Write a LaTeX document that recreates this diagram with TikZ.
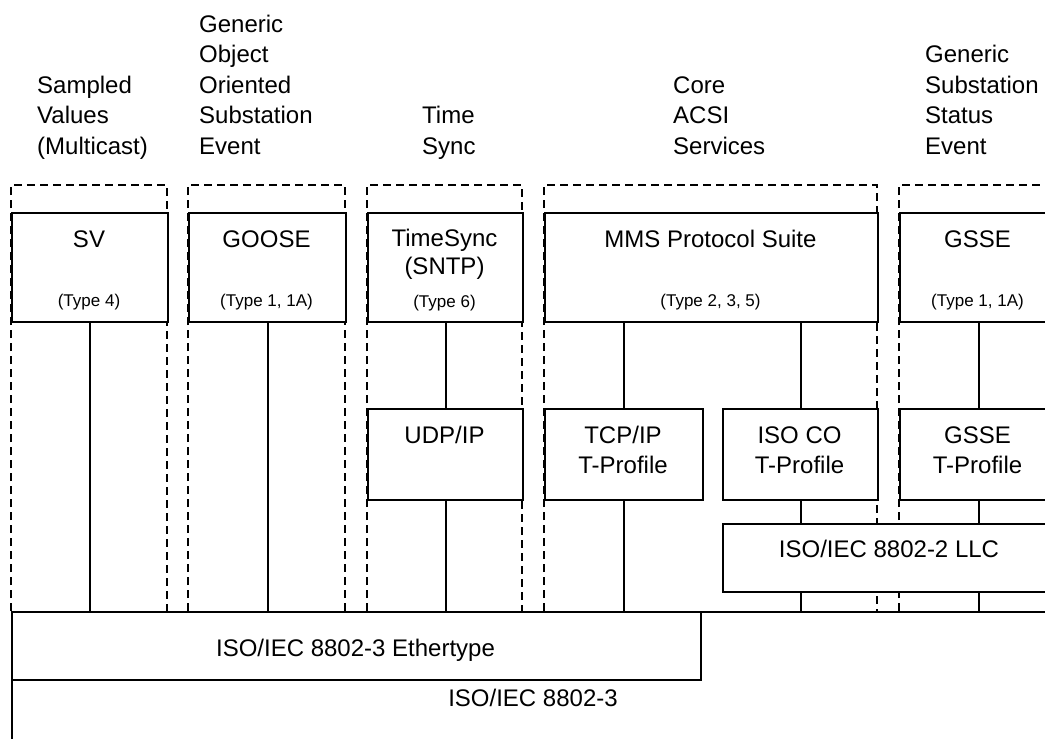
\documentclass[tikz,border=0pt]{standalone}
\usepackage{fontspec}
\setmainfont{Liberation Sans}
\begin{document}
\begin{tikzpicture}[x=1pt,y=-1pt,
  box/.style={draw, line width=2pt, fill=white, inner sep=0pt, anchor=north west},
  grp/.style={draw, line width=1.8pt, dash pattern=on 8pt off 5pt},
  lbl/.style={font=\fontsize{24}{30.6}\selectfont, inner sep=0pt, anchor=base},
  small/.style={font=\fontsize{17}{20}\selectfont, inner sep=0pt, anchor=base},
  head/.style={font=\fontsize{24}{30.6}\selectfont, inner sep=0pt, anchor=base west, align=left},
  wire/.style={line width=2pt}]
\useasboundingbox (0,0) rectangle (1045,739);
\clip (0,0) rectangle (1045,739);

% headers (anchored at the baseline of their last line)
\node[head] (hsv) at (37,154.5) {Sampled\\Values\\(Multicast)};
\node[head] (hgoose) at (199,154.5) {Generic\\Object\\Oriented\\Substation\\Event};
\node[head] (htime) at (422,154.5) {Time\\Sync};
\node[head] (hcore) at (673,154.5) {Core\\ACSI\\Services};
\node[head] (hgsse) at (925,154.5) {Generic\\Substation\\Status\\Event};

% dashed groups
\draw[grp] (11,611) -- (11,185) -- (167,185) -- (167,611);
\draw[grp] (188,611) -- (188,185) -- (345,185) -- (345,611);
\draw[grp] (367,611) -- (367,185) -- (522,185) -- (522,611);
\draw[grp] (544,611) -- (544,185) -- (877,185) -- (877,611);
\draw[grp] (899,611) -- (899,185) -- (1060,185);

% base layers
\node[box, minimum width=1045pt, minimum height=200pt] (ieee) at (11,611) {};
\node[box, minimum width=689pt, minimum height=68pt] (eth) at (11,611) {};

% application boxes
\node[box, minimum width=156pt, minimum height=109pt] (sv) at (11,212) {};
\node[box, minimum width=157pt, minimum height=109pt] (goose) at (188,212) {};
\node[box, minimum width=155pt, minimum height=109pt] (ts) at (367,212) {};
\node[box, minimum width=333pt, minimum height=109pt] (mms) at (544,212) {};
\node[box, minimum width=157pt, minimum height=109pt] (gsse) at (899,212) {};

% transport boxes
\node[box, minimum width=155pt, minimum height=91pt] (udp) at (367,408) {};
\node[box, minimum width=158pt, minimum height=91pt] (tcp) at (544,408) {};
\node[box, minimum width=155pt, minimum height=91pt] (isoco) at (722,408) {};
\node[box, minimum width=157pt, minimum height=91pt] (gsset) at (899,408) {};
\node[box, minimum width=334pt, minimum height=68pt] (llc) at (722,523) {};

% texts
\node[lbl] (tsv) at (89,247) {SV};
\node[small] (tsv2) at (89,306) {(Type 4)};
\node[lbl] (tgoose) at (266.5,247) {GOOSE};
\node[small] (tgoose2) at (266.5,306) {(Type 1, 1A)};
\node[lbl] (tts) at (444.5,246) {TimeSync};
\node[lbl] (tts2) at (444.5,274) {(SNTP)};
\node[small] (tts3) at (444.5,307) {(Type 6)};
\node[lbl] (tmms) at (710.5,247) {MMS Protocol Suite};
\node[small] (tmms2) at (710.5,306) {(Type 2, 3, 5)};
\node[lbl] (tgsse) at (977.5,247) {GSSE};
\node[small] (tgsse2) at (977.5,306) {(Type 1, 1A)};
\node[lbl] (tudp) at (444.5,443) {UDP/IP};
\node[lbl] (ttcp) at (623,443) {TCP/IP};
\node[lbl] (ttcp2) at (623,473) {T-Profile};
\node[lbl] (tiso) at (799.5,443) {ISO CO};
\node[lbl] (tiso2) at (799.5,473) {T-Profile};
\node[lbl] (tgt) at (977.5,443) {GSSE};
\node[lbl] (tgt2) at (977.5,473) {T-Profile};
\node[lbl] (tllc) at (889,557) {ISO/IEC 8802-2 LLC};
\node[lbl] (teth) at (355.5,656.5) {ISO/IEC 8802-3 Ethertype};
\node[lbl] (tieee) at (533,706.5) {ISO/IEC 8802-3};

% connectors
\draw[wire] (sv.south) -- (sv.south |- eth.north);
\draw[wire] (goose.south) -- (goose.south |- eth.north);
\draw[wire] (ts.south) -- (udp.north);
\draw[wire] (udp.south) -- (udp.south |- eth.north);
\draw[wire] (tcp.north |- mms.south) -- (tcp.north);
\draw[wire] (tcp.south) -- (tcp.south |- eth.north);
\draw[wire] (isoco.north |- mms.south) -- (isoco.north);
\draw[wire] (isoco.south) -- (isoco.south |- llc.north);
\draw[wire] (isoco.south |- llc.south) -- (isoco.south |- ieee.north);
\draw[wire] (gsse.south) -- (gsset.north);
\draw[wire] (gsset.south) -- (gsset.south |- llc.north);
\draw[wire] (gsset.south |- llc.south) -- (gsset.south |- ieee.north);
\end{tikzpicture}
\end{document}
